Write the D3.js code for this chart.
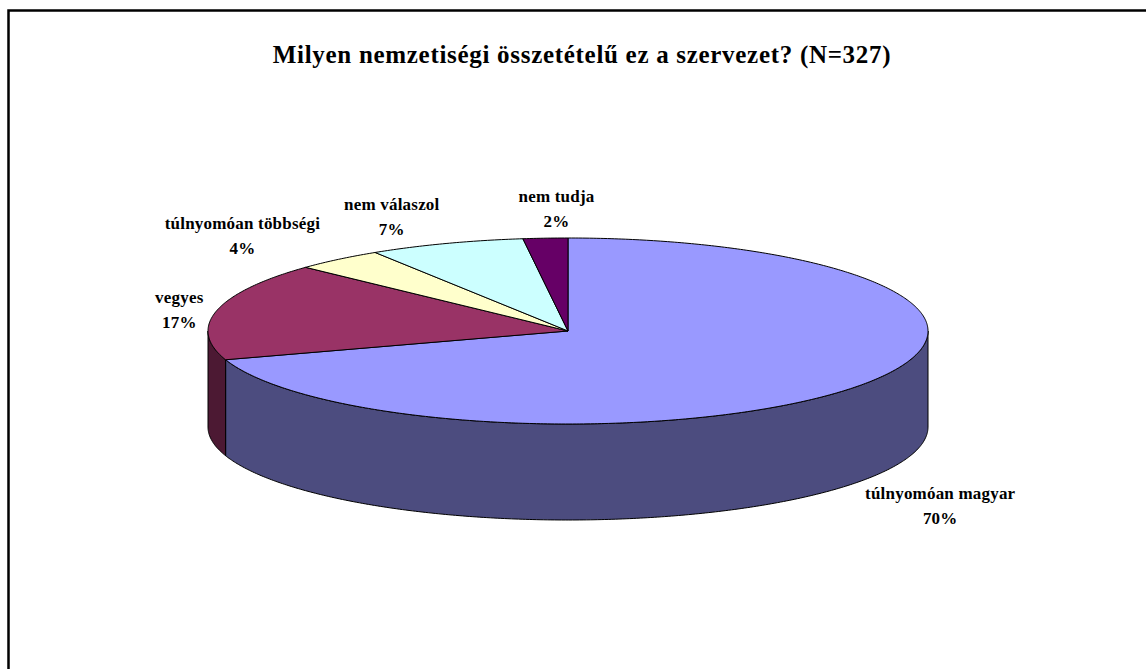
<!DOCTYPE html>
<html>
<head>
<meta charset="utf-8">
<script src="https://cdn.jsdelivr.net/npm/d3@7"></script>
<style>
  body { margin: 0; background: #fff; }
  svg text { font-family: "Liberation Serif", "Times New Roman", Times, serif; font-weight: bold; fill: #000; }
</style>
</head>
<body>
<script>
// data
const categories = ["túlnyomóan magyar", "vegyes", "túlnyomóan többségi", "nem válaszol", "nem tudja"];
const values = [70, 17, 4, 7, 2];
const topColors = ["#9999ff", "#993366", "#ffffcc", "#ccffff", "#660066"];
const sideColors = ["#4c4c7f", "#4c1933", "#7f7f66", "#667f7f", "#330033"];
const titleText = "Milyen nemzetiségi összetételű ez a szervezet? (N=327)";

// label nudges (px) after the ellipse-based placement
const labelNudge = [[-8, 6], [70, 5], [-26, -2], [-17, 0], [18, -1]];

const width = 1146, height = 669;
const cx = 568, cy = 331, rx = 360, ry = 93, depth = 96;

const svg = d3.select("body").append("svg")
    .attr("width", width)
    .attr("height", height);

// chart frame
svg.append("rect")
    .attr("x", 8.5).attr("y", 10.5)
    .attr("width", 1160).attr("height", 700)
    .attr("fill", "none")
    .attr("stroke", "#000")
    .attr("stroke-width", 2.5);

svg.append("text")
    .attr("x", 582).attr("y", 63)
    .attr("text-anchor", "middle")
    .attr("font-size", 25)
    .attr("letter-spacing", 0.7)
    .text(titleText);

const data = categories.map((c, i) => ({name: c, value: values[i], i}));
const arcs = d3.pie().sort(null).value(d => d.value)(data);

const px = (a, dy = 0) => [cx + rx * Math.sin(a), cy - ry * Math.cos(a) + dy];
const curve = (a0, a1, dy = 0) => {
  const n = Math.max(2, Math.ceil(Math.abs(a1 - a0) / 0.01));
  return d3.range(n + 1).map(k => px(a0 + (a1 - a0) * k / n, dy));
};
const line = d3.line();

// front side walls (visible between 90° and 270°)
const g = svg.append("g").attr("stroke", "#000").attr("stroke-width", 1).attr("stroke-linejoin", "round");
arcs.forEach(d => {
  const a0 = Math.max(d.startAngle, Math.PI / 2);
  const a1 = Math.min(d.endAngle, 3 * Math.PI / 2);
  if (a1 <= a0) return;
  const pts = curve(a0, a1).concat(curve(a1, a0, depth));
  g.append("path")
      .attr("d", line(pts) + "Z")
      .attr("fill", sideColors[d.data.i]);
});

// top faces
arcs.forEach(d => {
  const pts = [[cx, cy]].concat(curve(d.startAngle, d.endAngle));
  g.append("path")
      .attr("d", line(pts) + "Z")
      .attr("fill", topColors[d.data.i]);
});

// labels
const Rx = 470, Ry = 122;
arcs.forEach(d => {
  const a = (d.startAngle + d.endAngle) / 2;
  const front = Math.cos(a) < 0;
  const nudge = labelNudge[d.data.i];
  const lx = cx + Rx * Math.sin(a) + nudge[0];
  const ly = cy - Ry * Math.cos(a) + (front ? depth : 0) + nudge[1];
  const t = svg.append("text")
      .attr("text-anchor", "middle")
      .attr("font-size", 17)
      .attr("letter-spacing", 0.2);
  t.append("tspan").attr("x", lx).attr("y", ly - 6).text(d.data.name);
  t.append("tspan").attr("x", lx).attr("y", ly + 19)
      .text(Math.round(d.value / d3.sum(values) * 100) + "%");
});
</script>
</body>
</html>
